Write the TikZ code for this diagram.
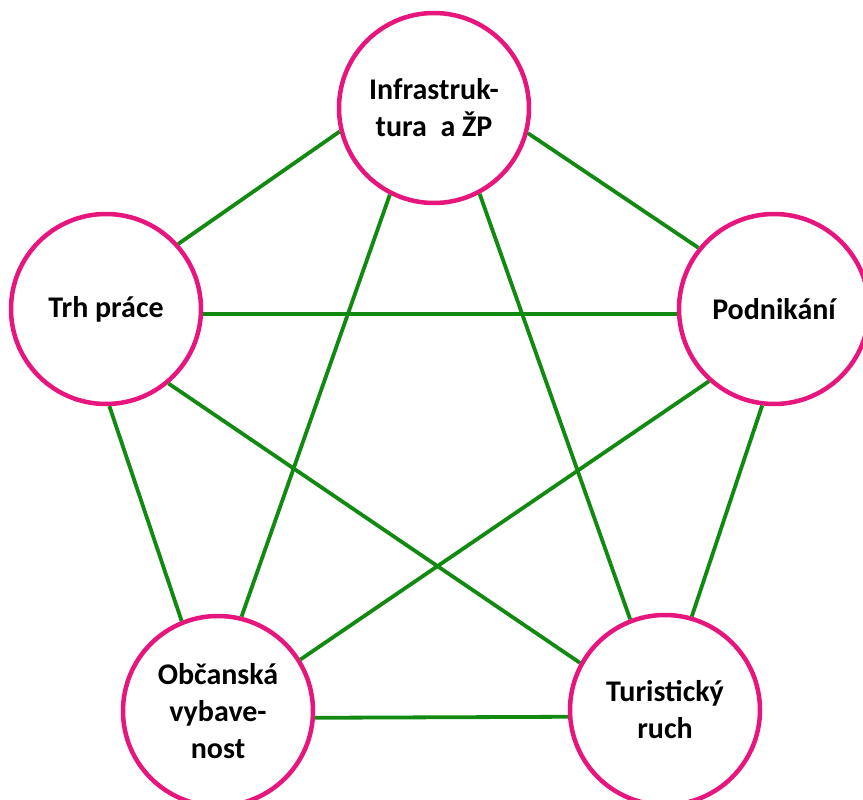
\documentclass[tikz,border=0pt]{standalone}
\usepackage{fontspec}
\setmainfont{Carlito}
\definecolor{ringpink}{RGB}{230,22,125}
\definecolor{linkgreen}{RGB}{18,138,18}
\begin{document}
\begin{tikzpicture}[x=1pt,y=-1pt,
  topic/.style={circle,draw=ringpink,line width=4.5pt,fill=white,minimum size=190pt,inner sep=0pt,
    align=center,font=\fontsize{30}{37}\selectfont\bfseries},
  link/.style={draw=linkgreen,line width=3.8pt}]
\useasboundingbox (0,0) rectangle (863,800);
\node[topic] (infra) at (434,108) {Infrastruk-\\tura \ a ŽP};
\node[topic] (trh) at (106,309) {Trh práce};
\node[topic] (podn) at (774,309) {Podnikání};
\node[topic] (obc) at (218,711) {Občanská\\vybave-\\nost};
\node[topic] (tur) at (665,710) {Turistický\\ruch};
\draw[link] (infra.194) -- (trh.42);
\draw[link] (infra.345) -- (podn.141);
\draw[link] (infra.243) -- (obc.76);
\draw[link] (infra.298) -- (tur.111);
\draw[link] (trh.357) -- (podn.183);
\draw[link] (trh.310) -- (tur.151);
\draw[link] (trh.272) -- (obc.112);
\draw[link] (podn.228) -- (obc.32);
\draw[link] (podn.263) -- (tur.74);
\draw[link] (obc.356) -- (tur.184);
\end{tikzpicture}
\end{document}
